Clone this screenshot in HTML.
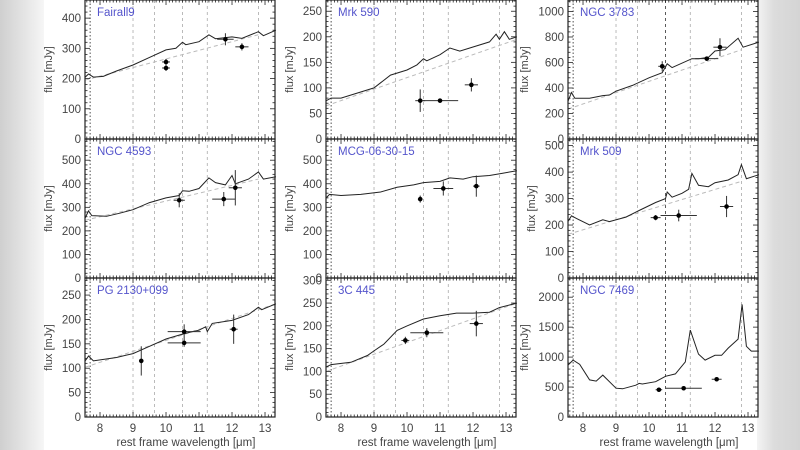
<!DOCTYPE html>
<html><head><meta charset="utf-8"><style>
html,body{margin:0;padding:0;background:#fff}
#c{position:relative;width:800px;height:450px;overflow:hidden;background:#fff}
.lb{position:absolute;left:0;top:0;width:44px;height:450px;background:linear-gradient(90deg,#cfcfcf,#e6e6e6 60%,#f6f6f6)}
.rb{position:absolute;left:757px;top:0;width:43px;height:450px;background:linear-gradient(90deg,#f4f4f4,#dcdcdc 40%,#d4d4d4)}
svg{position:absolute;left:0;top:0}
text{font-family:"Liberation Sans",sans-serif}
</style></head><body><div id="c"><div class="lb"></div><div class="rb"></div>
<svg id="s" width="800" height="450" xmlns="http://www.w3.org/2000/svg"></svg></div>
<script>
const cols=[85,326,568], rows=[0,139,278], W=190, H=139, XMIN=7.545, SC=33;
const P=[
{n:"Fairall9",c:0,r:0,ymax:460,yt:[0,100,200,300,400],
 s:[[7.55,205],[7.65,215],[7.8,205],[8.1,207],[8.5,225],[9,245],[9.5,270],[10,295],[10.3,300],[10.5,320],[10.6,312],[11,322],[11.3,345],[11.5,332],[12,338],[12.3,333],[12.8,355],[12.95,342],[13.33,360]],
 d:[[7.55,195],[12.8,345]],p:[[10,255,.12,10],[10,235,.12,10],[11.8,330,.25,20],[12.3,305,.2,12]]},
{n:"Mrk 590",c:1,r:0,ymax:272,yt:[0,50,100,150,200,250],
 s:[[7.55,75],[7.7,80],[8,80],[8.5,90],[9,100],[9.5,125],[10,135],[10.3,145],[10.5,157],[10.6,153],[11,165],[11.3,178],[11.6,172],[12,180],[12.5,190],[12.7,205],[12.8,195],[12.95,210],[13.1,195],[13.33,200]],
 d:[[7.55,65],[13.33,195]],p:[[10.4,75,.15,22],[11,75,.55,2],[11.95,106,.2,13]]},
{n:"NGC 3783",c:2,r:0,ymax:1090,yt:[0,200,400,600,800,1000],
 s:[[7.55,300],[7.65,365],[7.75,320],[8.2,320],[8.6,340],[8.8,345],[9,375],[9.5,420],[10,480],[10.4,520],[10.55,590],[10.7,560],[11.3,630],[11.5,630],[11.8,640],[12,690],[12.3,700],[12.7,790],[12.85,720],[13.33,760]],
 d:[[7.55,235],[12.8,700]],p:[[10.4,570,.12,40],[11.75,630,.35,15],[12.15,720,.2,70]]},
{n:"NGC 4593",c:0,r:1,ymax:590,yt:[0,100,200,300,400,500],
 s:[[7.55,255],[7.65,285],[7.75,265],[8.2,262],[8.6,275],[9,290],[9.5,320],[10,340],[10.4,350],[10.5,370],[10.7,368],[11,380],[11.3,425],[11.5,405],[11.8,395],[12,435],[12.1,400],[12.5,420],[12.8,450],[12.95,420],[13.33,430]],
 d:[[7.55,245],[12.8,420]],p:[[10.4,330,.17,30],[11.75,335,.35,30],[12.1,383,.2,75]]},
{n:"MCG-06-30-15",c:1,r:1,ymax:590,yt:[0,100,200,300,400,500],
 s:[[7.55,340],[7.65,355],[8,350],[8.6,355],[9.2,365],[9.7,385],[10.2,395],[10.5,405],[11,410],[11.3,425],[11.7,420],[12,430],[12.5,435],[12.9,445],[13.33,455]],
 d:null,p:[[10.4,335,.07,15],[11.1,380,.3,30],[12.1,390,.1,45]]},
{n:"Mrk 509",c:2,r:1,ymax:525,yt:[0,100,200,300,400,500],
 s:[[7.55,215],[7.65,235],[7.8,225],[8.2,200],[8.6,220],[8.8,213],[9.3,230],[9.7,255],[10.2,285],[10.5,300],[10.55,325],[10.7,305],[11,320],[11.2,335],[11.3,395],[11.5,350],[11.8,345],[12,360],[12.4,370],[12.7,390],[12.8,428],[12.95,375],[13.33,390]],
 d:[[7.55,165],[12.8,365]],p:[[10.2,228,.15,10],[10.9,236,.55,22],[12.35,270,.2,40]]},
{n:"PG 2130+099",c:0,r:2,ymax:285,yt:[0,50,100,150,200,250],
 s:[[7.55,115],[7.65,125],[7.8,115],[8.5,122],[9,130],[9.5,145],[10,160],[10.5,170],[10.8,175],[11,178],[11.2,185],[11.25,175],[11.4,192],[12,198],[12.5,210],[12.8,225],[12.9,220],[13.33,232]],
 d:[[7.55,102],[13.33,232]],p:[[9.25,115,.03,30],[10.55,175,.5,15],[10.55,152,.5,8],[12.05,180,.12,30]]},
{n:"3C 445",c:1,r:2,ymax:305,yt:[0,50,100,150,200,250,300],
 s:[[7.55,110],[7.7,115],[8.3,120],[8.8,135],[9,145],[9.3,160],[9.7,190],[10,200],[10.5,215],[11,222],[11.5,228],[12,228],[12.5,230],[12.8,240],[13.33,250]],
 d:[[7.55,100],[13.33,250]],p:[[9.95,168,.12,8],[10.6,185,.5,10],[12.1,205,.2,28]]},
{n:"NGC 7469",c:2,r:2,ymax:2320,yt:[0,500,1000,1500,2000],
 s:[[7.55,870],[7.7,950],[7.9,880],[8.2,620],[8.4,600],[8.6,700],[9,480],[9.2,470],[9.6,530],[9.7,560],[9.8,550],[10.2,590],[10.5,680],[10.8,720],[11.1,920],[11.25,1450],[11.5,1050],[11.7,950],[12,1030],[12.2,1030],[12.4,1150],[12.7,1300],[12.82,1880],[12.95,1180],[13.1,1100],[13.33,1100]],
 p:[[10.3,455,.1,0],[11.05,480,.55,20],[12.05,630,.15,20]]}
];
let o="";
for(const p of P){
 const L=cols[p.c],T=rows[p.r],B=T+H;
 const X=x=>L+(x-XMIN)*SC, Y=y=>B-y/p.ymax*H;
 // vertical lines
 [[7.7,"#222","1.5,2"],[9.0,"#aaa","3,3"],[9.65,"#aaa","3,3"],[10.5,p.c==2?"#333":"#aaa","3,3"],[11.25,"#aaa","3,3"],[12.8,"#aaa","3,3"]].forEach(v=>{
  o+=`<line x1="${X(v[0])}" y1="${T}" x2="${X(v[0])}" y2="${B}" stroke="${v[1]}" stroke-width="0.8" stroke-dasharray="${v[2]}"/>`;});
 if(p.d) o+=`<line x1="${X(p.d[0][0])}" y1="${Y(p.d[0][1])}" x2="${X(p.d[1][0])}" y2="${Y(p.d[1][1])}" stroke="#bbb" stroke-width="1" stroke-dasharray="4,3"/>`;
 o+=`<polyline fill="none" stroke="#222" stroke-width="1" points="${p.s.map(q=>X(q[0]).toFixed(1)+","+Y(q[1]).toFixed(1)).join(" ")}"/>`;
 for(const e of p.p){const cx=X(e[0]),cy=Y(e[1]);
  o+=`<line x1="${cx-e[2]*SC}" y1="${cy}" x2="${cx+e[2]*SC}" y2="${cy}" stroke="#333" stroke-width="1"/>`;
  if(e[3])o+=`<line x1="${cx}" y1="${Y(e[1]-e[3])}" x2="${cx}" y2="${Y(e[1]+e[3])}" stroke="#333" stroke-width="1"/>`;
  o+=`<circle cx="${cx}" cy="${cy}" r="2.3" fill="#000"/>`;}
 // frame
 o+=`<rect x="${L}" y="${T}" width="${W}" height="${H}" fill="none" stroke="#222" stroke-width="1.2"/>`;
 // x ticks
 for(let k=76;k<=133;k++){const x=X(k/10),maj=k%10==0,h=maj?5:2.5;
  o+=`<line x1="${x}" y1="${B}" x2="${x}" y2="${B-h}" stroke="#222" stroke-width="0.8"/><line x1="${x}" y1="${T}" x2="${x}" y2="${T+h}" stroke="#222" stroke-width="0.8"/>`;}
 // y ticks and labels
 const st=p.yt[1]-p.yt[0];
 for(let v=0;v<=p.ymax;v+=st/5){const y=Y(v),maj=Math.abs(v/st-Math.round(v/st))<1e-6,h=maj?5:2.5;
  o+=`<line x1="${L}" y1="${y}" x2="${L+h}" y2="${y}" stroke="#222" stroke-width="0.8"/><line x1="${L+W}" y1="${y}" x2="${L+W-h}" y2="${y}" stroke="#222" stroke-width="0.8"/>`;}
 for(const v of p.yt){o+=`<text x="${L-4}" y="${Y(v)+4}" font-size="11.5" fill="#444" text-anchor="end">${v}</text>`;}
 o+=`<text x="${L+12}" y="${T+16}" font-size="11.5" fill="#5555cc">${p.n}</text>`;
 const ax=L-(p.yt[p.yt.length-1]>=1000?40:33);
 o+=`<text transform="translate(${ax},${T+H/2}) rotate(-90)" font-size="11" fill="#444" text-anchor="middle">flux [mJy]</text>`;
 if(p.r==2){for(let k=8;k<=13;k++)o+=`<text x="${X(k)}" y="${B+15}" font-size="11.5" fill="#444" text-anchor="middle">${k}</text>`;
  o+=`<text x="${L+W/2+6}" y="${B+29}" font-size="11.5" fill="#444" text-anchor="middle">rest frame wavelength [μm]</text>`;}
}
document.getElementById("s").innerHTML=o;
</script></body></html>
